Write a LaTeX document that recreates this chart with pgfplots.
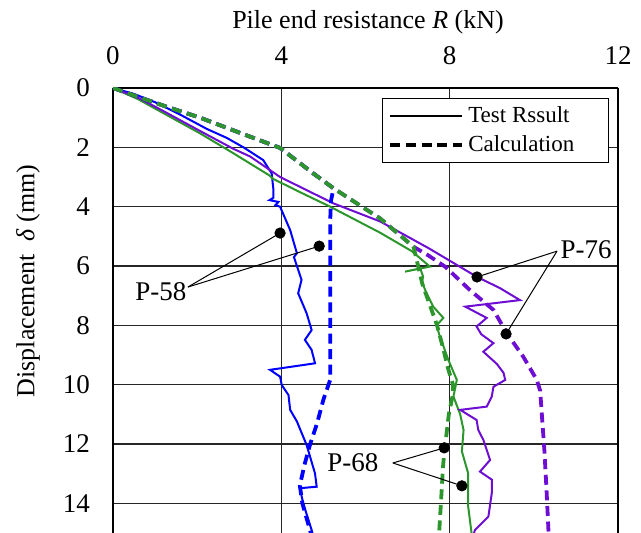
\documentclass[border=0pt]{standalone}
\usepackage{fontspec}
\setmainfont{Liberation Serif}
\usepackage{pgfplots}
\pgfplotsset{compat=1.18}
\definecolor{cblue}{RGB}{0,0,255}
\definecolor{cgreen}{RGB}{44,150,44}
\definecolor{cpurple}{RGB}{110,14,210}
\begin{document}
\begin{tikzpicture}
\begin{axis}[
  at={(0,0)}, anchor=south west,
  scale only axis,
  width=252.5pt, height=222.5pt,
  xmin=0, xmax=12, ymin=0, ymax=15,
  y dir=reverse,
  axis x line=top,
  axis y line=box,
  axis line style={-, line width=1.2pt, black},
  xtick={0,4,8,12}, ytick={0,2,4,6,8,10,12,14},
  major tick length=0pt,
  grid=major,
  major grid style={line width=0.6pt, black!85},
  tick label style={font=\fontsize{13.5}{16}\selectfont},
  xticklabel style={yshift=8pt},
  yticklabel style={xshift=-8pt},
  /pgf/number format/assume math mode=true,
  clip mode=individual,
  legend style={at={(axis description cs:0.982,0.9775)}, anchor=north east,
    draw=black, line width=0.6pt, font=\fontsize{11.5}{13}\selectfont,
    inner xsep=3pt, inner ysep=2pt, row sep=1pt},
  legend cell align=left,
  legend image code/.code={\draw[#1] (0pt,0pt) -- (36pt,0pt);},
]
% legend dummies
\addlegendimage{black, line width=1.4pt}
\addlegendentry{Test Rssult\hspace*{12pt}}
\addlegendimage{black, line width=1.8pt, dash pattern=on 5pt off 2.8pt}
\addlegendentry{Calculation\hspace*{12pt}}

% P-58 test
\addplot[cblue, line width=1pt] coordinates {
(0,0)(0.5,0.2)(1.0,0.48)(1.6,0.9)(2.23,1.38)(2.7,1.68)(3.10,2.0)(3.57,2.43)(3.77,2.88)(3.81,3.4)(3.81,3.7)(3.72,3.78)(3.93,3.84)(3.86,3.95)(3.97,4.0)(4.21,4.79)(4.37,5.57)(4.3,5.7)(4.48,6.47)(4.40,6.92)(4.60,7.59)(4.72,8.16)(4.56,8.49)(4.72,8.83)(4.80,9.28)(3.73,9.5)(3.97,9.73)(4.01,10.01)(4.17,10.35)(4.21,10.85)(4.37,11.24)(4.60,12.03)(4.80,12.99)(4.84,13.44)(4.44,13.49)(4.52,14.0)(4.72,14.9)(4.74,15.0)};
% P-68 test
\addplot[cgreen, line width=1pt] coordinates {
(0,0)(0.6,0.38)(1.2,0.85)(2.07,1.53)(2.86,2.2)(3.72,2.95)(3.8,3.06)(4.5,3.55)(5.16,4.0)(6.35,4.88)(7.1,5.5)(7.53,6.02)(6.94,6.19)(7.30,6.08)(7.37,6.36)(7.34,6.53)(7.45,6.92)(7.61,7.37)(7.85,7.75)(7.69,8.0)(7.75,8.3)(7.97,9.17)(8.17,9.84)(8.09,10.4)(8.25,11.0)(8.33,11.53)(8.29,12.25)(8.44,12.99)(8.44,14.11)(8.52,15.0)};
% P-76 test
\addplot[cpurple, line width=1pt] coordinates {
(0,0)(0.6,0.33)(1.2,0.78)(2.07,1.45)(2.86,2.05)(3.26,2.31)(3.97,3.0)(5.24,3.89)(6.35,4.5)(7.5,5.4)(8.64,6.36)(9.2,6.75)(9.67,7.15)(8.37,7.37)(8.88,7.75)(8.64,8.04)(8.75,8.3)(9.04,8.6)(8.80,8.89)(9.12,9.3)(9.28,9.6)(9.32,9.84)(9.04,10.07)(9.0,10.4)(8.88,10.74)(8.25,10.85)(8.64,11.19)(8.68,11.53)(8.80,11.86)(8.96,12.54)(8.72,12.93)(9.0,13.2)(9.0,13.66)(8.92,14.45)(8.60,14.9)(8.58,15.0)};

% calculations
\addplot[cblue, line width=1.9pt, dash pattern=on 5pt off 2.8pt] coordinates {
(0,0)(0.6,0.3)(1.27,0.63)(2.07,1.0)(3.18,1.6)(3.97,2.02)(4.76,2.88)(5.24,3.38)(5.18,3.8)(5.16,4.5)(5.16,6)(5.16,8)(5.16,9.84)(5.0,10.5)(4.85,11.3)(4.68,12.03)(4.55,12.7)(4.44,13.4)(4.5,14.0)(4.6,14.5)(4.7,15.0)};
\addplot[cpurple, line width=1.9pt, dash pattern=on 5pt off 2.8pt] coordinates {
(0,0)(0.6,0.3)(1.27,0.63)(2.07,1.0)(3.18,1.6)(3.97,2.02)(4.76,2.88)(5.24,3.38)(6.35,4.4)(7.14,5.35)(7.5,5.65)(7.9,6.03)(8.48,6.81)(9.04,7.48)(9.36,8.27)(9.75,9.06)(10.07,9.84)(10.15,10.2)(10.2,11.2)(10.25,12.2)(10.3,13.5)(10.35,15.0)};
\addplot[cgreen, line width=1.9pt, dash pattern=on 5pt off 2.8pt] coordinates {
(0,0)(0.6,0.3)(1.27,0.63)(2.07,1.0)(3.18,1.6)(3.97,2.02)(4.76,2.88)(5.24,3.38)(6.35,4.4)(7.14,5.35)(7.2,5.7)(7.25,6.0)(7.35,6.6)(7.45,7.0)(7.6,7.6)(7.7,8.0)(7.85,8.8)(7.95,9.4)(8.08,10.0)(8.08,10.3)(7.98,11.0)(7.93,11.6)(7.87,12.3)(7.84,12.8)(7.8,13.8)(7.75,15.0)};

% annotation lines
\addplot[black, line width=0.5pt] coordinates {(1.78,6.71)(3.97,4.89)};
\addplot[black, line width=0.5pt] coordinates {(1.78,6.71)(4.9,5.33)};
\addplot[black, line width=0.5pt] coordinates {(10.55,5.5)(8.65,6.37)};
\addplot[black, line width=0.5pt] coordinates {(10.55,5.5)(9.34,8.29)};
\addplot[black, line width=0.5pt] coordinates {(6.65,12.64)(7.87,12.13)};
\addplot[black, line width=0.5pt] coordinates {(6.65,12.64)(8.29,13.41)};
\addplot[only marks, mark=*, mark size=2.6pt, black] coordinates {
(3.97,4.89)(4.9,5.33)(8.65,6.37)(9.34,8.29)(7.87,12.13)(8.29,13.41)};

\node[font=\fontsize{13.5}{16}\selectfont] at (axis cs:1.14,6.88) {P-58};
\node[font=\fontsize{13.5}{16}\selectfont] at (axis cs:11.24,5.46) {P-76};
\node[font=\fontsize{13.5}{16}\selectfont] at (axis cs:5.70,12.64) {P-68};

\node[font=\fontsize{13}{15}\selectfont] at (axis cs:6.06,-2.22) {Pile end resistance \textit{R} (kN)};
\node[font=\fontsize{13}{15}\selectfont, rotate=90] at (axis cs:-2.02,6.5) {Displacement \ \textit{δ} (mm)};
\end{axis}
\pgfresetboundingbox
\path[use as bounding box] (-56.5pt,0pt) rectangle (264pt,266.5pt);
\end{tikzpicture}
\end{document}
